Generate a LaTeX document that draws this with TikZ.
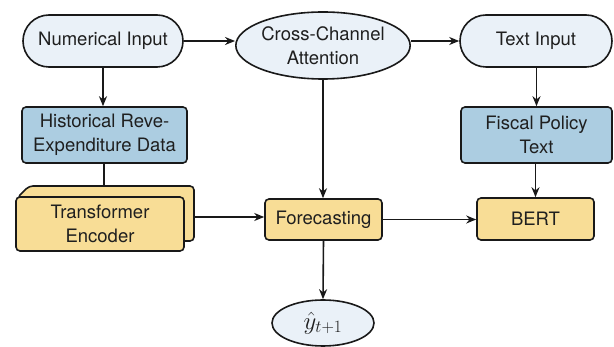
\documentclass[tikz,border=0pt]{standalone}
\usepackage{fontspec}
\setmainfont{TeX Gyre Heros}
\usetikzlibrary{shapes.geometric,arrows.meta,calc}
\definecolor{pillfill}{RGB}{234,241,248}
\definecolor{bluefill}{RGB}{172,205,225}
\definecolor{yelfill}{RGB}{248,221,150}
\definecolor{edge}{RGB}{25,25,25}
\begin{document}
\begin{tikzpicture}[x=1pt,y=-1pt,
  every node/.style={font=\fontsize{18.5}{23.5}\selectfont, text=black!88, align=center, inner sep=0pt},
  pill/.style={draw=edge, line width=1.6pt, fill=pillfill, rectangle, rounded corners=26pt, minimum height=52pt},
  ell/.style={draw=edge, line width=1.6pt, fill=pillfill, ellipse},
  bluebox/.style={draw=edge, line width=1.6pt, fill=bluefill, rectangle, rounded corners=4pt, minimum height=56pt},
  yelbox/.style={draw=edge, line width=1.6pt, fill=yelfill, rectangle, rounded corners=4pt},
  conn/.style={draw=edge, line width=1.6pt},
  arr/.style={conn, -{Stealth[length=10pt,width=8pt]}}]
\useasboundingbox (0,0) rectangle (614,347);
\fill[white] (0,0) rectangle (614,347);

\node[pill, minimum width=160pt] (num) at (103,41) {Numerical Input};
\node[ell, minimum width=174pt, minimum height=67pt] (cca) at (323,45.5) {Cross-Channel\\Attention};
\node[pill, minimum width=152pt] (txt) at (536,41) {Text Input};

\node[bluebox, minimum width=165pt] (hist) at (104.5,135) {Historical Reve-\\Expenditure Data};
\node[bluebox, minimum width=151pt] (fisc) at (536.5,135) {Fiscal Policy\\Text};

% transformer stacked box
\path[draw=edge, line width=1.6pt, fill=yelfill, rounded corners=4pt]
  (17,198) -- (29,186) -- (194,186) -- (194,241) -- (180,241) -- cycle;
\coordinate (tback) at (104,186);
\coordinate (tright) at (194,217);
\node[yelbox, minimum width=168pt, minimum height=54pt] (trans) at (100,224) {Transformer\\Encoder};

\node[yelbox, minimum width=117pt, minimum height=41pt] (fore) at (323.5,219.5) {Forecasting};
\node[yelbox, minimum width=117pt, minimum height=42pt] (bert) at (535.5,219) {BERT};
\node[ell, minimum width=102pt, minimum height=46pt, font=\fontsize{23}{27}\selectfont] (out) at (323,323) {$\hat{y}_{t+1}$};

\draw[arr] (num.east) -- (num.east -| cca.west);
\draw[arr] (txt.west -| cca.east) -- (txt.west);
\draw[arr] (num.south) -- (num.south |- hist.north);
\draw[arr] (fisc.north |- txt.south) -- (fisc.north);
\draw[conn] (hist.south -| tback) -- (tback);
\draw[arr] (tright) -- (tright -| fore.west);
\draw[arr] (cca.south) -- (cca.south |- fore.north);
\draw[arr] (fisc.south -| bert.north) -- (bert.north);
\draw[arr] (fore.east) -- (fore.east -| bert.west);
\draw[arr] (fore.south) -- (out.north);
\end{tikzpicture}
\end{document}
